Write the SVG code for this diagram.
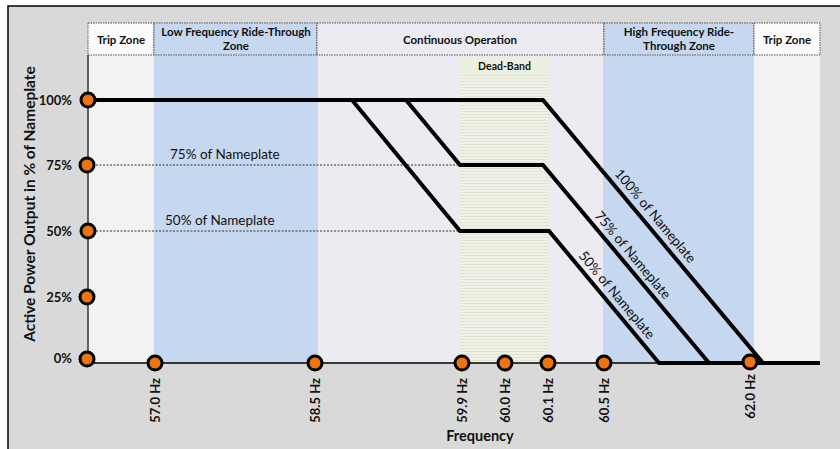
<svg xmlns="http://www.w3.org/2000/svg" width="840" height="449" viewBox="0 0 840 449">
<defs>
<pattern id="stripes" x="0" y="0" width="8" height="3" patternUnits="userSpaceOnUse">
<rect width="8" height="3" fill="#eff0e8"/>
<rect y="0" width="8" height="1" fill="#dfe5cf"/>
</pattern>
</defs>
<style>
text{font-family:Lato,"Open Sans","Liberation Sans",sans-serif;fill:#111}
.hdr{font-size:11.5px;font-weight:bold;text-anchor:middle}
.ytick{font-size:13px;font-weight:bold;text-anchor:end}
.xtick{font-size:13px;font-weight:bold;text-anchor:end}
.lbl{font-size:13.5px}
.cell{stroke:#555;stroke-width:1;stroke-dasharray:1.5 1}
.dot{fill:#ee7410;stroke:#000;stroke-width:3}
.curve{fill:none;stroke:#000;stroke-width:4;stroke-linejoin:miter}
.ref{fill:none;stroke:#333;stroke-width:1;stroke-dasharray:2 1.5}
</style>
<rect x="8" y="6" width="840" height="450" fill="#d9d9d9" stroke="#000" stroke-width="1.5"/>
<g id="zones">
<rect x="88" y="55" width="66" height="308" fill="#f2f2f2"/>
<rect x="154" y="55" width="164" height="308" fill="#c6d8ef"/>
<rect x="318" y="55" width="285" height="308" fill="#ecebf2"/>
<rect x="603" y="55" width="151" height="308" fill="#c6d8ef"/>
<rect x="754" y="55" width="66" height="308" fill="#f2f2f2"/>
</g>
<g id="deadband">
<rect x="460" y="75" width="89" height="288" fill="url(#stripes)"/>
<rect x="460" y="57" width="89" height="18" fill="#ebf1de"/>
<text x="504.5" y="70" style="font-size:10.5px;font-weight:bold;text-anchor:middle">Dead-Band</text>
</g>
<g id="header">
<rect class="cell" x="88" y="23" width="66" height="32" fill="#fbfbfb"/>
<rect class="cell" x="154" y="23" width="163" height="32" fill="#c6d8ef"/>
<rect class="cell" x="317" y="23" width="287" height="32" fill="#ecebf2"/>
<rect class="cell" x="604" y="23" width="150" height="32" fill="#c6d8ef"/>
<rect class="cell" x="754" y="23" width="66" height="32" fill="#fbfbfb"/>
<text class="hdr" x="121" y="44">Trip Zone</text>
<text class="hdr" x="236" y="36">Low Frequency Ride-Through</text>
<text class="hdr" x="236" y="50">Zone</text>
<text class="hdr" x="460" y="44">Continuous Operation</text>
<text class="hdr" x="679" y="36">High Frequency Ride-</text>
<text class="hdr" x="679" y="50">Through Zone</text>
<text class="hdr" x="787" y="44">Trip Zone</text>
</g>
<g id="connectors">
<line x1="88" y1="55" x2="88" y2="359" stroke="#333" stroke-width="1.5"/>
<line x1="88" y1="363" x2="820" y2="363" stroke="#000" stroke-width="1.5"/>
<line class="ref" x1="96" y1="165" x2="460" y2="165"/>
<line class="ref" x1="96" y1="231" x2="460" y2="231"/>
<polyline id="c100" class="curve" points="88,100 543,100 763,363 820,363"/>
<polyline id="c75" class="curve" points="406,100 460,165 543,165 709,363"/>
<polyline id="c50" class="curve" points="352,100 460,231 549,231 659,363 820,363"/>
</g>
<g id="curve-labels">
<text class="lbl" x="170" y="159">75% of Nameplate</text>
<text class="lbl" x="165" y="225">50% of Nameplate</text>
<text class="lbl" transform="translate(614,174) rotate(50)">100% of Nameplate</text>
<text class="lbl" transform="translate(594,216) rotate(50)">75% of Nameplate</text>
<text class="lbl" transform="translate(578,256) rotate(50)">50% of Nameplate</text>
</g>
<g id="y-axis">
<text transform="translate(35,204) rotate(-90)" style="font-size:15.5px;font-weight:bold;text-anchor:middle">Active Power Output in % of Nameplate</text>
<g id="y100"><circle class="dot" cx="88" cy="100" r="7"/><text class="ytick" x="72" y="105">100%</text></g>
<g id="y75"><circle class="dot" cx="87" cy="165" r="7"/><text class="ytick" x="72" y="170">75%</text></g>
<g id="y50"><circle class="dot" cx="88" cy="231" r="7"/><text class="ytick" x="72" y="236">50%</text></g>
<g id="y25"><circle class="dot" cx="87" cy="297" r="7"/><text class="ytick" x="72" y="302">25%</text></g>
<g id="y0"><circle class="dot" cx="87" cy="359" r="7"/><text class="ytick" x="72" y="363">0%</text></g>
</g>
<g id="x-axis">
<g id="x57"><circle class="dot" cx="155" cy="363" r="7"/><text class="xtick" transform="translate(159.5,378) rotate(-90)">57.0 Hz</text></g>
<g id="x585"><circle class="dot" cx="315" cy="363" r="7"/><text class="xtick" transform="translate(319.5,378) rotate(-90)">58.5 Hz</text></g>
<g id="x599"><circle class="dot" cx="462" cy="363" r="7"/><text class="xtick" transform="translate(466.5,378) rotate(-90)">59.9 Hz</text></g>
<g id="x600"><circle class="dot" cx="505" cy="363" r="7"/><text class="xtick" transform="translate(509.5,378) rotate(-90)">60.0 Hz</text></g>
<g id="x601"><circle class="dot" cx="548" cy="363" r="7"/><text class="xtick" transform="translate(552.5,378) rotate(-90)">60.1 Hz</text></g>
<g id="x605"><circle class="dot" cx="604" cy="363" r="7"/><text class="xtick" transform="translate(608.5,378) rotate(-90)">60.5 Hz</text></g>
<g id="x620"><circle class="dot" cx="750" cy="362" r="7"/><text class="xtick" transform="translate(754.5,374) rotate(-90)">62.0 Hz</text></g>
<text x="480" y="441" style="font-size:14.5px;font-weight:bold;text-anchor:middle">Frequency</text>
</g>
</svg>
